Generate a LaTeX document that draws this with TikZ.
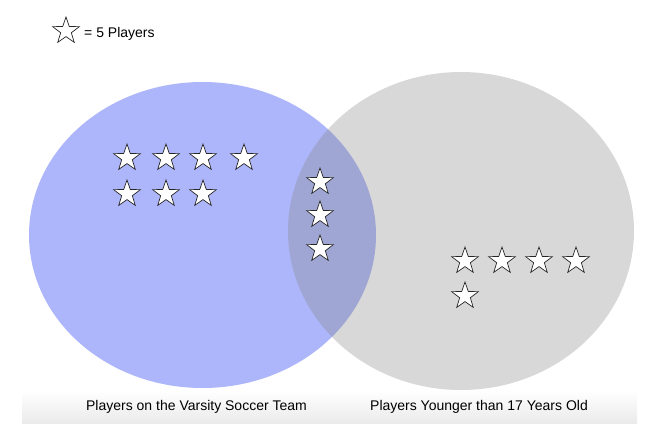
\documentclass[tikz,border=0pt]{standalone}
\usepackage{fontspec}
\setmainfont{Liberation Sans}
\usepackage{tikz}
\usetikzlibrary{shapes.geometric}

\definecolor{varsityblue}{RGB}{173,182,250}
\definecolor{youngergray}{RGB}{133,133,133}

\begin{document}
\begin{tikzpicture}[x=1pt,y=-1pt,
  teamset/.style={ellipse,inner sep=0pt,outer sep=0pt},
  setlabel/.style={anchor=base,inner sep=0pt,font=\fontsize{14}{16}\selectfont},
  player/.style={star,star points=5,star point ratio=2.5,minimum size=28pt,inner sep=0pt,outer sep=0pt}]
      \tikzstyle{every node}=[text=black]
      \tikzstyle{player}+=[fill=white,draw=black!85,line width=0.7pt]

     \useasboundingbox (0,0) rectangle (672,445);
     \shade[top color=white,bottom color=black!8] (22,390) rectangle (637,423);

     \node [teamset,fill=varsityblue,minimum width=347pt,minimum height=306pt] (V) at (202.5,235) {};
     \node [teamset,fill=youngergray,fill opacity=0.32,minimum width=346pt,minimum height=318pt] (Y) at (461,231) {};

     \node [player] (K) at (66,31) {};
     \node [setlabel,anchor=base west] (KT) at (84,37) {= 5 Players};

     \node [player] (V1) at (127,158) {};
     \node [player] (V2) at (166,158) {};
     \node [player] (V3) at (203,158) {};
     \node [player] (V4) at (244,158) {};
     \node [player] (V5) at (127,194) {};
     \node [player] (V6) at (166,194) {};
     \node [player] (V7) at (203,194) {};

     \node [player] (B1) at (320,182) {};
     \node [player] (B2) at (320,215) {};
     \node [player] (B3) at (320,249) {};

     \node [player] (Y1) at (465,261) {};
     \node [player] (Y2) at (502,261) {};
     \node [player] (Y3) at (539,261) {};
     \node [player] (Y4) at (576,261) {};
     \node [player] (Y5) at (465,296) {};

     \node [setlabel] (VL) at (196.5,410) {Players on the Varsity Soccer Team};
     \node [setlabel] (YL) at (479,410) {Players Younger than 17 Years Old};

  \end{tikzpicture}
\end{document}
